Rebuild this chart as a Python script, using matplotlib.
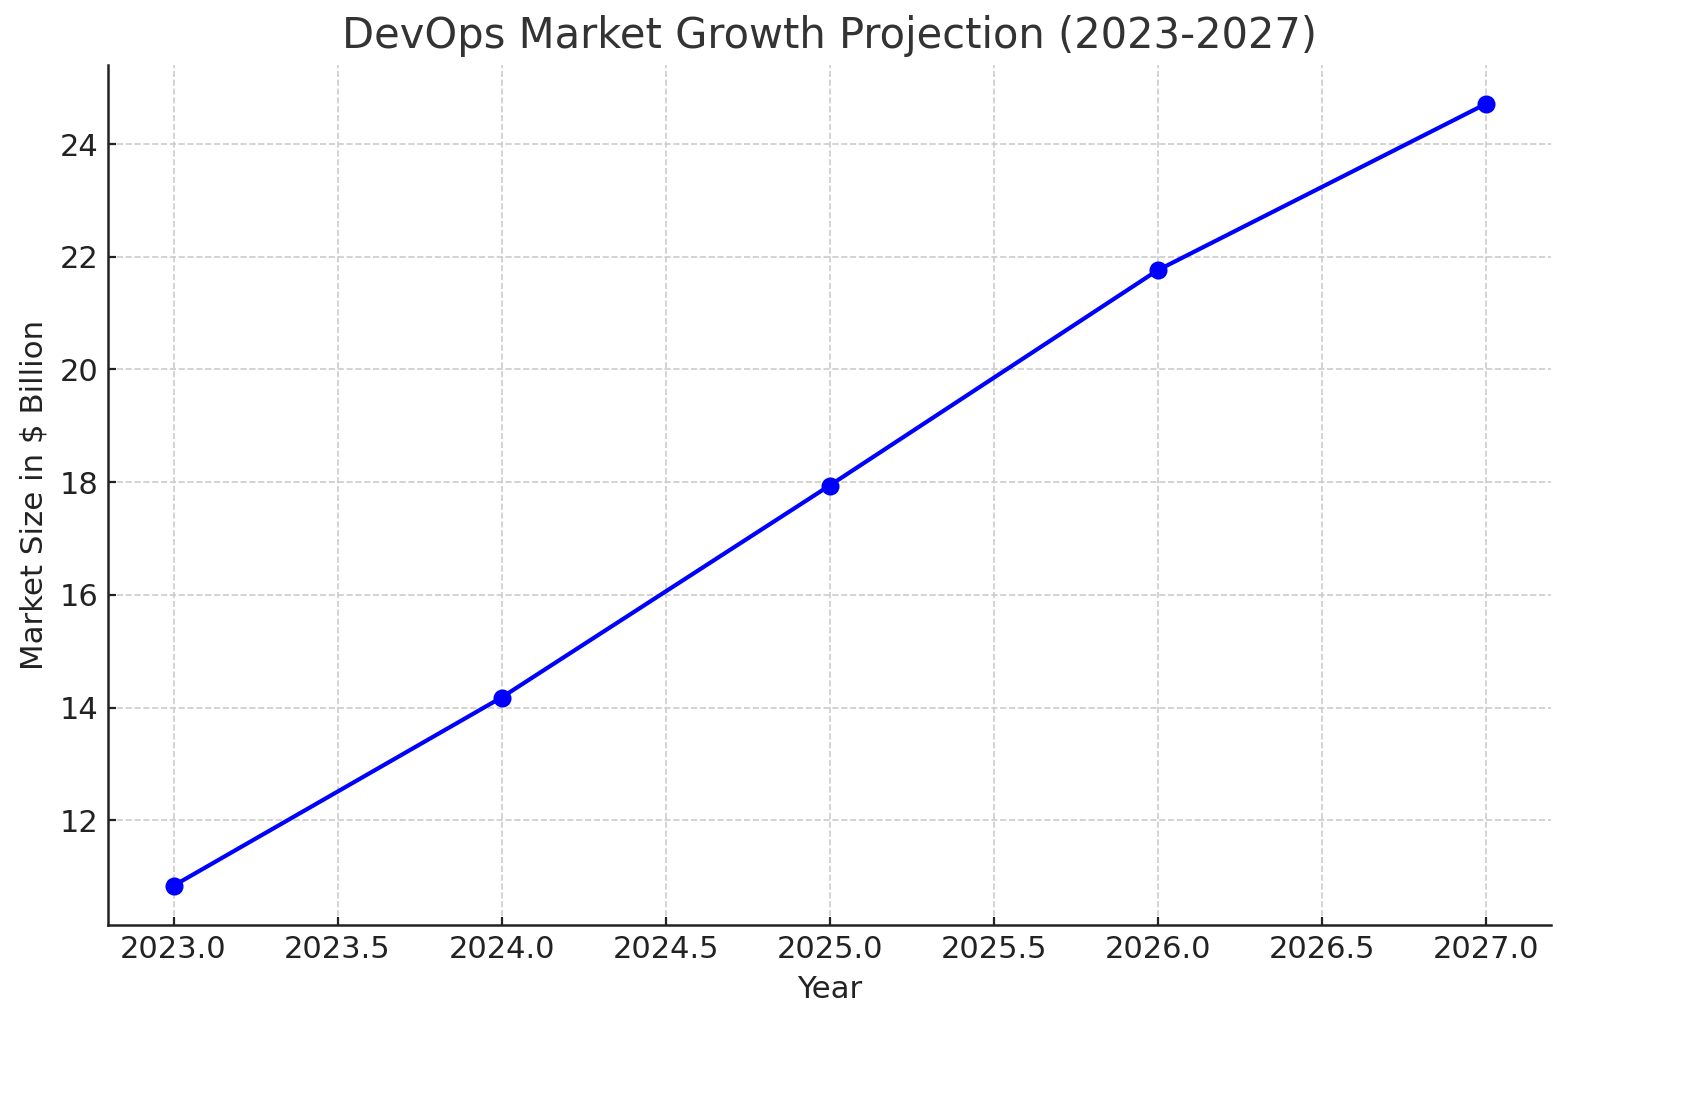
import matplotlib
matplotlib.use('Agg')
import matplotlib.pyplot as plt

years = [2023, 2024, 2025, 2026, 2027]
market_size = [10.84, 14.18, 17.94, 21.76, 24.71]

plt.rcParams['font.family'] = ['DejaVu Sans']
plt.rcParams['text.color'] = '#333333'
plt.rcParams['axes.labelcolor'] = '#222222'
plt.rcParams['xtick.color'] = '#222222'
plt.rcParams['ytick.color'] = '#222222'

fig, ax = plt.subplots(figsize=(8.43, 5.505), dpi=200)
ax.plot(years, market_size, marker='o', color='blue', linewidth=1.5, markersize=5.5)

ax.set_title('DevOps Market Growth Projection (2023-2027)', fontsize=15, color='#333333')
ax.set_xlabel('Year', fontsize=11.1)
ax.set_ylabel('Market Size in $ Billion', fontsize=11.1)
ax.tick_params(axis='both', direction='in', length=3, width=0.8, labelsize=11)
ax.grid(True, linestyle='--', color='#cccccc', linewidth=0.6)
for side in ['top', 'right']:
  ax.spines[side].set_visible(False)
for side in ['left', 'bottom']:
  ax.spines[side].set_linewidth(0.9)
  ax.spines[side].set_color('#222222')

fig.subplots_adjust(left=0.064, right=0.92, bottom=0.16, top=0.941)
plt.savefig('out.png', dpi=200)
